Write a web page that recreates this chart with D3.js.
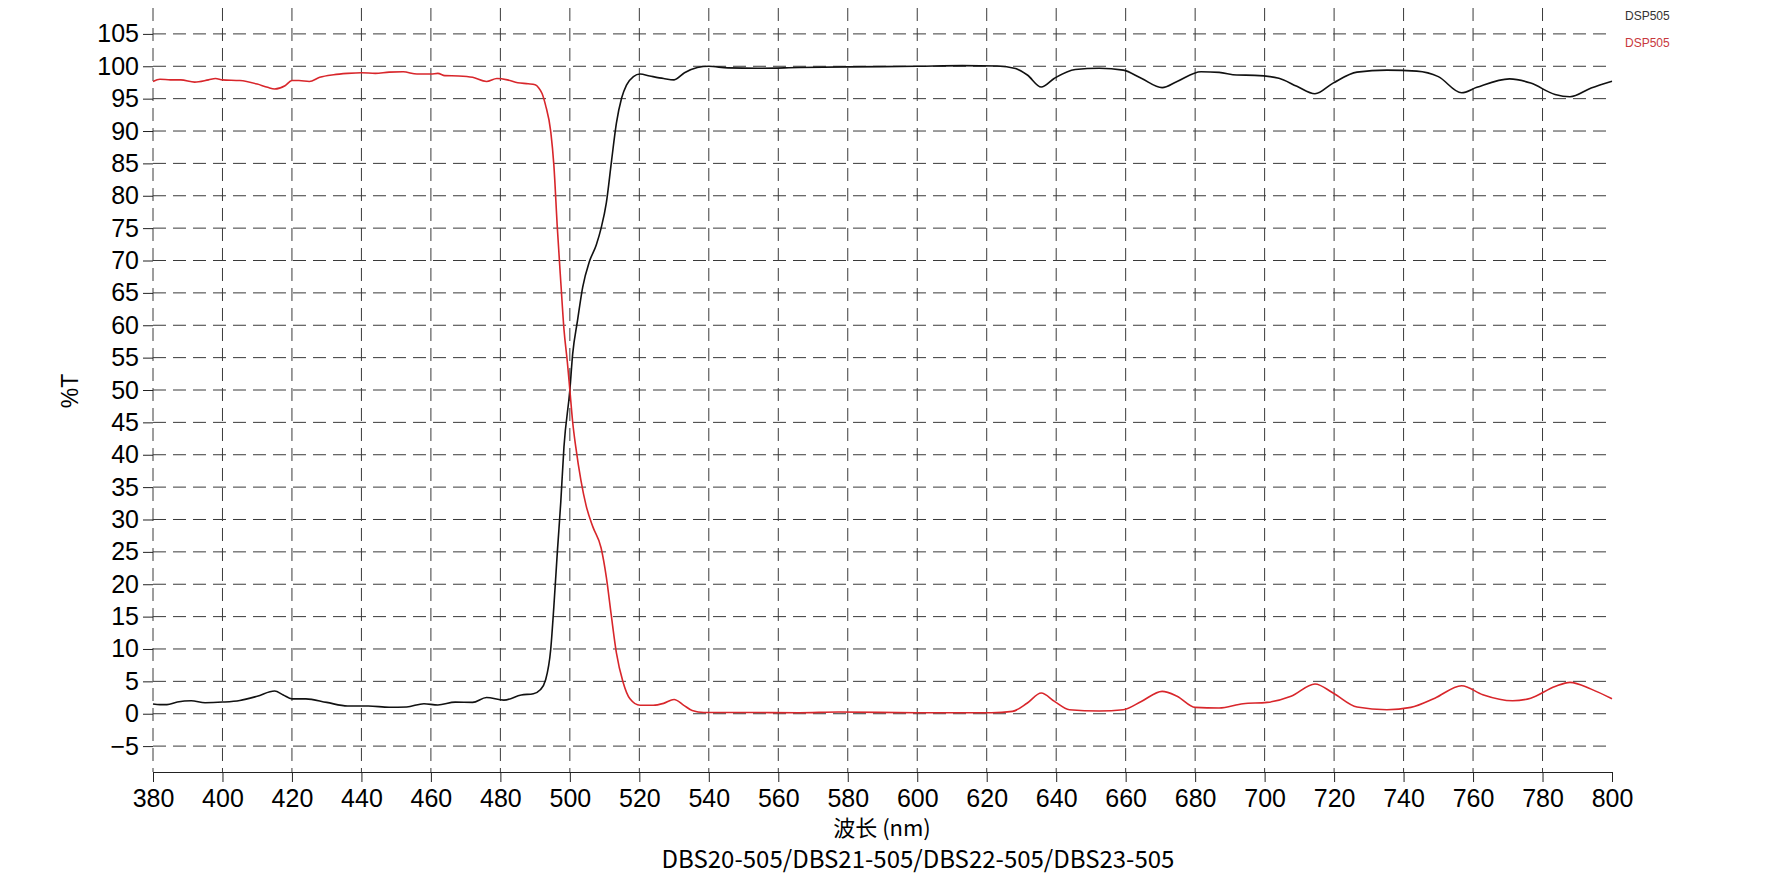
<html>
<head>
<meta charset="utf-8" />
<title>DBS20-505</title>
<script src="https://cdn.jsdelivr.net/npm/d3@7"></script>
<style>
body { margin: 0; background: #fff; }
.grid line { stroke: #3a3a3a; stroke-width: 1; stroke-dasharray: 13,7; }
</style>
</head>
<body>
<script>

// wavelength ticks and %T ticks
var xTicks = d3.range(380, 801, 20);
var yTicks = d3.range(-5, 106, 5);

// black curve (DSP505)
var blackNm = [380,382,384,387,391,395,400,405,410,415,417.5,420,424,430,436,442,448,453,458,462,467,472,476,481,486,489.5,491.5,493,494.5,495.4,496.4,497.4,498.3,500,500.8,502.2,503.7,505.6,507.6,509,510.5,512,513.4,514.9,516.3,518.3,520.2,523,527,530,533,536.7,540,545.5,554,566,580,600,613,623,628.3,631.7,635.7,639.5,645.5,652.4,659.3,664.5,670.5,674.8,681.7,686.9,692,697.2,704.1,709.3,714.5,719.7,726.6,735.2,743.8,750,756.7,761.1,770.5,776.6,783.6,787.9,794,800];
var blackT = [1.5,1.4,1.4,1.8,2.0,1.7,1.8,2.05,2.7,3.5,2.9,2.3,2.3,1.75,1.2,1.2,1.0,1.05,1.55,1.35,1.8,1.75,2.5,2.1,2.9,3.1,3.7,5.2,10,16.6,25,32.8,41.2,50,55.5,60.7,65.9,69.8,72.4,75,78.9,85.4,91.2,95.1,97.1,98.4,98.8,98.5,98.1,97.9,99.0,99.8,100,99.75,99.7,99.8,99.9,100,100.1,100.05,99.65,98.65,96.8,98.15,99.5,99.7,99.4,98.15,96.7,97.65,99.15,99.05,98.65,98.6,98.15,96.9,95.75,97.4,99.1,99.4,99.25,98.4,95.9,96.75,98.05,97.4,95.65,95.3,96.65,97.7];

// red curve (DSP505)
var redNm = [380,382,385,388,392,396,398,400,405,410,413,415,418,420,422,425,428,432,436,440,444,448,452,456,460,462,464,468,472,476,479,482,485,488,490,491,492,493,494.5,495.4,496.4,497.4,498.3,499.3,500,500.8,501.7,503.2,504.7,506.6,509,510.5,511.9,513.4,515.3,517.3,520.2,524,527,530,532.8,535.2,538.6,549,566,577.4,600,621.4,627.4,631.7,635.7,639.5,643.8,652.4,659.3,664.5,670.5,674.8,680,686.9,693.8,700.7,707.6,714.5,719.7,726.6,735.2,742.1,749,756.7,762.8,771.4,776.6,783.6,787.9,794,800];
var redT = [97.65,98.0,97.9,97.9,97.55,97.9,98.1,97.9,97.8,97.25,96.75,96.5,97.0,97.8,97.8,97.65,98.3,98.7,98.9,99.0,98.9,99.1,99.15,98.8,98.8,98.9,98.55,98.5,98.3,97.65,98.1,97.9,97.45,97.3,97.15,96.7,95.8,94.0,89.9,84.7,75,66.6,59.4,54.2,50,45.1,41.2,36.0,32.1,28.9,25.6,21.1,15.3,9.4,4.9,2.3,1.3,1.3,1.6,2.2,1.3,0.5,0.2,0.2,0.15,0.26,0.15,0.15,0.36,1.65,3.2,1.9,0.62,0.41,0.62,1.9,3.45,2.7,0.98,0.88,1.55,1.75,2.7,4.6,3.2,1.03,0.62,0.98,2.4,4.33,2.94,2.0,2.4,4.2,4.85,3.8,2.3];

var legendNames = ["DSP505", "DSP505"];
var lineColors = ["#111111", "#d8262b"];

(function() {
var width = 1766, height = 878;
var plotLeft = 153, plotRight = 1612, plotTop = 8, plotBottom = 772;
var latin = "'Liberation Sans', Arial, sans-serif";

var svg = d3.select("body").append("svg")
	.attr("width", width)
	.attr("height", height)
	.style("display", "block");

svg.append("rect").attr("width", width).attr("height", height).attr("fill", "#fff");

var xScale = d3.scaleLinear().domain([380, 800]).range([plotLeft, plotRight]);
var yScale = d3.scaleLinear().domain([-9, 109]).range([plotBottom, plotTop]);

// grid
var grid = svg.append("g").attr("class", "grid");
grid.selectAll(".hg").data(yTicks).enter().append("line")
	.attr("x1", plotLeft).attr("x2", plotRight)
	.attr("y1", d => yScale(d)).attr("y2", d => yScale(d));
grid.selectAll(".vg").data(xTicks.filter(d => d < 800)).enter().append("line")
	.attr("x1", d => xScale(d)).attr("x2", d => xScale(d))
	.attr("y1", plotTop).attr("y2", plotBottom);

// y axis: only outward ticks and labels
var yAxis = svg.append("g")
	.attr("transform", "translate(" + plotLeft + ",0)")
	.call(d3.axisLeft(yScale).tickValues(yTicks).tickSize(10).tickPadding(4));
yAxis.select(".domain").remove();
yAxis.selectAll("line").attr("stroke", "#222");
yAxis.selectAll("text")
	.attr("font-family", latin)
	.attr("font-size", "25px").attr("fill", "#000");

// x axis
var xAxis = svg.append("g")
	.attr("transform", "translate(0," + plotBottom + ")")
	.call(d3.axisBottom(xScale).tickValues(xTicks).tickSize(10).tickSizeOuter(0).tickPadding(7));
xAxis.select(".domain").attr("stroke", "#222");
xAxis.selectAll("line").attr("stroke", "#222");
xAxis.selectAll("text")
	.attr("font-family", latin)
	.attr("font-size", "25px").attr("fill", "#000");

// curves
var line = d3.line()
	.x(d => xScale(d[0]))
	.y(d => yScale(d[1]))
	.curve(d3.curveMonotoneX);

var series = [d3.zip(blackNm, blackT), d3.zip(redNm, redT)];
svg.append("g").selectAll("path").data(series).enter().append("path")
	.attr("fill", "none")
	.attr("stroke", (d, i) => lineColors[i])
	.attr("stroke-width", 1.6)
	.attr("stroke-linejoin", "round")
	.attr("d", line);

// legend
svg.append("g").selectAll("text").data(legendNames).enter().append("text")
	.attr("x", 1625)
	.attr("y", (d, i) => 20 + i * 27)
	.attr("font-family", latin)
	.attr("font-size", "12px")
	.attr("fill", (d, i) => i == 0 ? "#333" : "#c8383c")
	.text(d => d);

// labels
svg.append("text")
	.attr("transform", "translate(78,391) rotate(-90)")
	.attr("text-anchor", "middle")
	.attr("font-family", latin)
	.attr("font-size", "23px")
	.text("%T");

svg.append("text")
	.attr("x", 882).attr("y", 836)
	.attr("text-anchor", "middle")
	.attr("font-family", "'Noto Sans CJK SC', sans-serif")
	.attr("font-size", "22px")
	.text("波长 (nm)");

svg.append("text")
	.attr("x", 918).attr("y", 868)
	.attr("text-anchor", "middle")
	.attr("font-family", "'Noto Sans CJK SC', sans-serif")
	.attr("font-size", "24px")
	.text("DBS20-505/DBS21-505/DBS22-505/DBS23-505");
})();

</script>
</body>
</html>
